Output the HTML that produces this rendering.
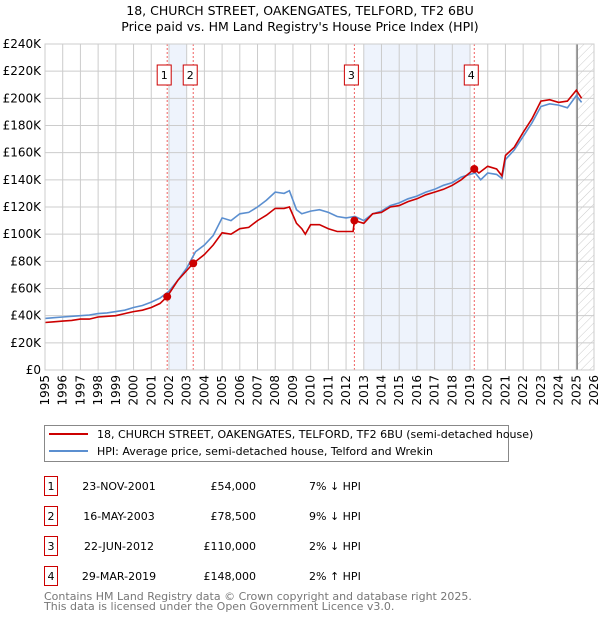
<!DOCTYPE html>
<html><head><meta charset="utf-8"><style>
body{margin:0;background:#fff;}
svg text{font-family:"DejaVu Sans","Liberation Sans",sans-serif;}
</style></head><body>
<svg id="c" width="600" height="620" xmlns="http://www.w3.org/2000/svg">
<defs><pattern id="hatch" width="6" height="6" patternUnits="userSpaceOnUse" patternTransform="rotate(45)"><line x1="0" y1="0" x2="0" y2="6" stroke="#ccc" stroke-width="1"/></pattern></defs>
<text x="300" y="15" font-size="12.5" text-anchor="middle">18, CHURCH STREET, OAKENGATES, TELFORD, TF2 6BU</text>
<text x="300" y="31" font-size="12.5" text-anchor="middle">Price paid vs. HM Land Registry's House Price Index (HPI)</text>
<g id="plot"></g>
<g>
<rect x="44.5" y="425.5" width="464" height="36" fill="#fff" stroke="#888"/>
<line x1="49" y1="434" x2="88" y2="434" stroke="#cc0000" stroke-width="2"/>
<text x="97" y="438" font-size="11">18, CHURCH STREET, OAKENGATES, TELFORD, TF2 6BU (semi-detached house)</text>
<line x1="49" y1="451" x2="88" y2="451" stroke="#5b8fd0" stroke-width="2"/>
<text x="97" y="455" font-size="11">HPI: Average price, semi-detached house, Telford and Wrekin</text>
</g>
<g id="table"></g>
<text x="44" y="600" font-size="11" fill="#777">Contains HM Land Registry data © Crown copyright and database right 2025.</text>
<text x="44" y="610" font-size="11" fill="#777">This data is licensed under the Open Government Licence v3.0.</text>
</svg>
<script>
const hpiYears=[1995,1995.5,1996,1996.5,1997,1997.5,1998,1998.5,1999,1999.5,2000,2000.5,2001,2001.5,2002,2002.5,2003,2003.5,2004,2004.5,2005,2005.5,2006,2006.5,2007,2007.5,2008,2008.5,2008.8,2009.2,2009.5,2010,2010.5,2011,2011.5,2012,2012.5,2013,2013.5,2014,2014.5,2015,2015.5,2016,2016.5,2017,2017.5,2018,2018.5,2019,2019.3,2019.6,2020,2020.5,2020.8,2021,2021.5,2022,2022.5,2023,2023.5,2024,2024.5,2025,2025.3];
const hpiValues=[38,38.5,39,39.5,40,40.5,41.5,42,43,44,46,47.5,50,53,58,66,75,87,92,99,112,110,115,116,120,125,131,130,132,118,115,117,118,116,113,112,113,110,115,117,121,123,126,128,131,133,136,138,142,144,145,140,145,144,141,155,162,172,182,194,196,195,193,202,197];
const priceYears=[1995,1995.5,1996,1996.5,1997,1997.5,1998,1998.5,1999,1999.5,2000,2000.5,2001,2001.5,2001.9,2002.5,2003.37,2004,2004.5,2005,2005.5,2006,2006.5,2007,2007.5,2008,2008.5,2008.8,2009.2,2009.5,2009.7,2010,2010.5,2011,2011.5,2012.4,2012.47,2013,2013.5,2014,2014.5,2015,2015.5,2016,2016.5,2017,2017.5,2018,2018.5,2019.24,2019.5,2020,2020.5,2020.8,2021,2021.5,2022,2022.5,2023,2023.5,2024,2024.5,2025,2025.3];
const priceValues=[35,35.5,36,36.5,37.5,37.5,39,39.5,40,41.5,43,44,46,49,54,66,78.5,85,92,101,100,104,105,110,114,119,119,120,108,104,100,107,107,104,102,102,110,108,115,116,120,121,124,126,129,131,133,136,140,148,145,150,148,143,158,164,175,185,198,199,197,198,206,200];
const saleYears=[2001.9,2003.37,2012.47,2019.24];
const saleValues=[54,78.5,110,148];
const saleLabels=["1","2","3","4"];
const saleDates=["23-NOV-2001","16-MAY-2003","22-JUN-2012","29-MAR-2019"];
const salePrices=["£54,000","£78,500","£110,000","£148,000"];
const saleDiffs=["7% ↓ HPI","9% ↓ HPI","2% ↓ HPI","2% ↑ HPI"];
const yTicks=[0,20,40,60,80,100,120,140,160,180,200,220,240];
const xTicks=[1995,1996,1997,1998,1999,2000,2001,2002,2003,2004,2005,2006,2007,2008,2009,2010,2011,2012,2013,2014,2015,2016,2017,2018,2019,2020,2021,2022,2023,2024,2025,2026];

const NS="http://www.w3.org/2000/svg";
const X0=45,X1=594,Y0=370,Y1=44;
const sx=y=>X0+(y-1995)/(2026-1995)*(X1-X0);
const sy=v=>Y0-v/240*(Y0-Y1);
const plot=document.getElementById('plot');
function mk(tag,attrs,parent){const e=document.createElementNS(NS,tag);for(const k in attrs)e.setAttribute(k,attrs[k]);(parent||plot).appendChild(e);return e;}
// shaded spans (whole years between sale pairs)
for(let i=0;i<saleYears.length;i+=2){
 const a=Math.ceil(saleYears[i]),b=Math.floor(saleYears[i+1]);
 const r=mk('rect',{x:sx(a),y:Y1,width:sx(b)-sx(a),height:Y0-Y1,fill:'#eef3fc'});
 
 
}
const hz=mk('rect',{x:sx(2025.1),y:Y1,width:X1-sx(2025.1),height:Y0-Y1,fill:'url(#hatch)'});


yTicks.forEach(v=>{
 const l=mk('line',{x1:X0,x2:X1,y1:sy(v),y2:sy(v),stroke:'#ccc','stroke-width':1});
 
 
 const t=mk('text',{x:X0-4,y:sy(v)+4,'font-size':12,'text-anchor':'end'});
 t.textContent=v===0?'£0':'£'+v+'K';
 
 
});
xTicks.forEach(yr=>{
 const l=mk('line',{x1:sx(yr),x2:sx(yr),y1:Y1,y2:Y0,stroke:'#ccc','stroke-width':1});
 
 
 const t=mk('text',{x:0,y:0,'font-size':12,'text-anchor':'end',transform:`translate(${sx(yr)+4},${Y0+5}) rotate(-90)`});
 t.textContent=yr;
 
 
});
const nl=mk('line',{x1:sx(2025.05),x2:sx(2025.05),y1:Y1,y2:Y0,stroke:'#888','stroke-width':1.5});


saleYears.forEach((yr,i)=>{
 const l=mk('line',{x1:sx(yr),x2:sx(yr),y1:Y1,y2:Y0,stroke:'#f06060','stroke-width':1,'stroke-dasharray':'2,2'});
 
 
 const bx=sx(yr)-10;
 const b=mk('rect',{x:bx,y:65,width:14,height:20,fill:'#fff',stroke:'#cc0000'});
 
 
 const t=mk('text',{x:bx+7,y:79,'font-size':11,'text-anchor':'middle'});
 t.textContent=saleLabels[i];
 
 
});
const path=(xs,vs)=>xs.map((x,i)=>(i?'L':'M')+sx(x).toFixed(1)+','+sy(vs[i]).toFixed(1)).join('');
const hl=mk('path',{d:path(hpiYears,hpiValues),fill:'none',stroke:'#5b8fd0','stroke-width':1.6});


const pl=mk('path',{d:path(priceYears,priceValues),fill:'none',stroke:'#cc0000','stroke-width':1.6});


saleYears.forEach((yr,i)=>{
 const c=mk('circle',{cx:sx(yr),cy:sy(saleValues[i]),r:4,fill:'#cc0000'});
 
 
});
const fr=mk('rect',{x:X0,y:Y1,width:X1-X0,height:Y0-Y1,fill:'none',stroke:'#ccc'});


const tb=document.getElementById('table');
saleLabels.forEach((lab,i)=>{
 const y=476+i*30;
 const b=mk('rect',{x:44.5,y:y+0.5,width:13,height:19,fill:'#fff',stroke:'#cc0000'},tb);
 
 
 const t0=mk('text',{x:51,y:y+14,'font-size':11,'text-anchor':'middle'},tb);t0.textContent=lab;
 
 
 const t1=mk('text',{x:119,y:y+14,'font-size':11,'text-anchor':'middle'},tb);t1.textContent=saleDates[i];
 
 
 const t2=mk('text',{x:256,y:y+14,'font-size':11,'text-anchor':'end'},tb);t2.textContent=salePrices[i];
 
 
 const t3=mk('text',{x:309,y:y+14,'font-size':11},tb);t3.textContent=saleDiffs[i];
 
 
});
</script>
</body></html>
